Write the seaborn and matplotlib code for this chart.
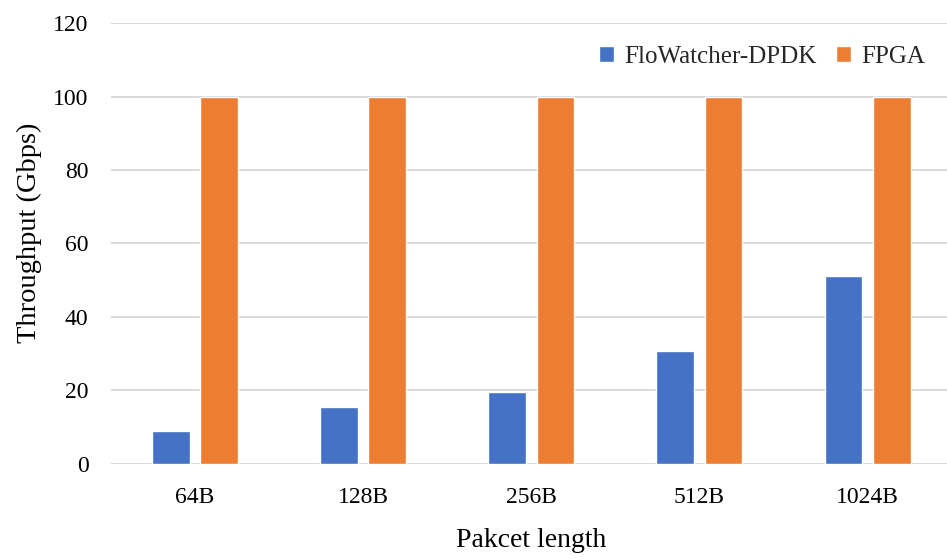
import matplotlib
matplotlib.use("Agg")
import matplotlib.pyplot as plt
import seaborn as sns
import pandas as pd

categories = ["64B", "128B", "256B", "512B", "1024B"]
flowatcher = [9.0, 15.3, 19.4, 30.8, 51.0]
fpga = [100, 100, 100, 100, 100]
series_names = ["FloWatcher-DPDK", "FPGA"]
yticks = [0, 20, 40, 60, 80, 100, 120]

df = pd.DataFrame({
    "Pakcet length": categories * 2,
    "Throughput": flowatcher + fpga,
    "Series": [series_names[0]] * len(categories) + [series_names[1]] * len(categories),
})

sns.set_theme(style="white")
plt.rcParams["font.family"] = ["Liberation Serif", "DejaVu Serif"]

fig = plt.figure(figsize=(9.47, 5.59), dpi=100)
ax = fig.add_axes([0.117, 0.1708, 0.888, 0.7875])

sns.barplot(data=df, x="Pakcet length", y="Throughput", hue="Series",
            palette=["#4472C4", "#ED7D31"], width=0.575, gap=0.22,
            saturation=1, ax=ax, zorder=3)

ax.set_ylim(0, 120)
ax.set_yticks(yticks)
ax.set_xlim(-0.5, len(categories) - 0.5)
ax.yaxis.grid(True, color="#D9D9D9", linewidth=1.4, zorder=0)
ax.set_axisbelow(True)
for s in ax.spines.values():
    s.set_visible(False)
ax.tick_params(axis="both", length=0, labelsize=17, colors="#000000")
ax.tick_params(axis="y", pad=16)
ax.tick_params(axis="x", pad=17)
ax.set_xlabel("Pakcet length", fontsize=20, labelpad=14, color="#000000")
ax.set_ylabel("Throughput (Gbps)", fontsize=20.5, color="#000000")
ax.yaxis.set_label_coords(-0.082, 0.524)

ax.legend(loc="upper right", bbox_to_anchor=(0.995, 1.0), ncol=2, frameon=False,
          fontsize=18, handlelength=0.6, handleheight=0.6, handletextpad=0.4,
          columnspacing=0.8)

fig.savefig("out.png", dpi=100)
